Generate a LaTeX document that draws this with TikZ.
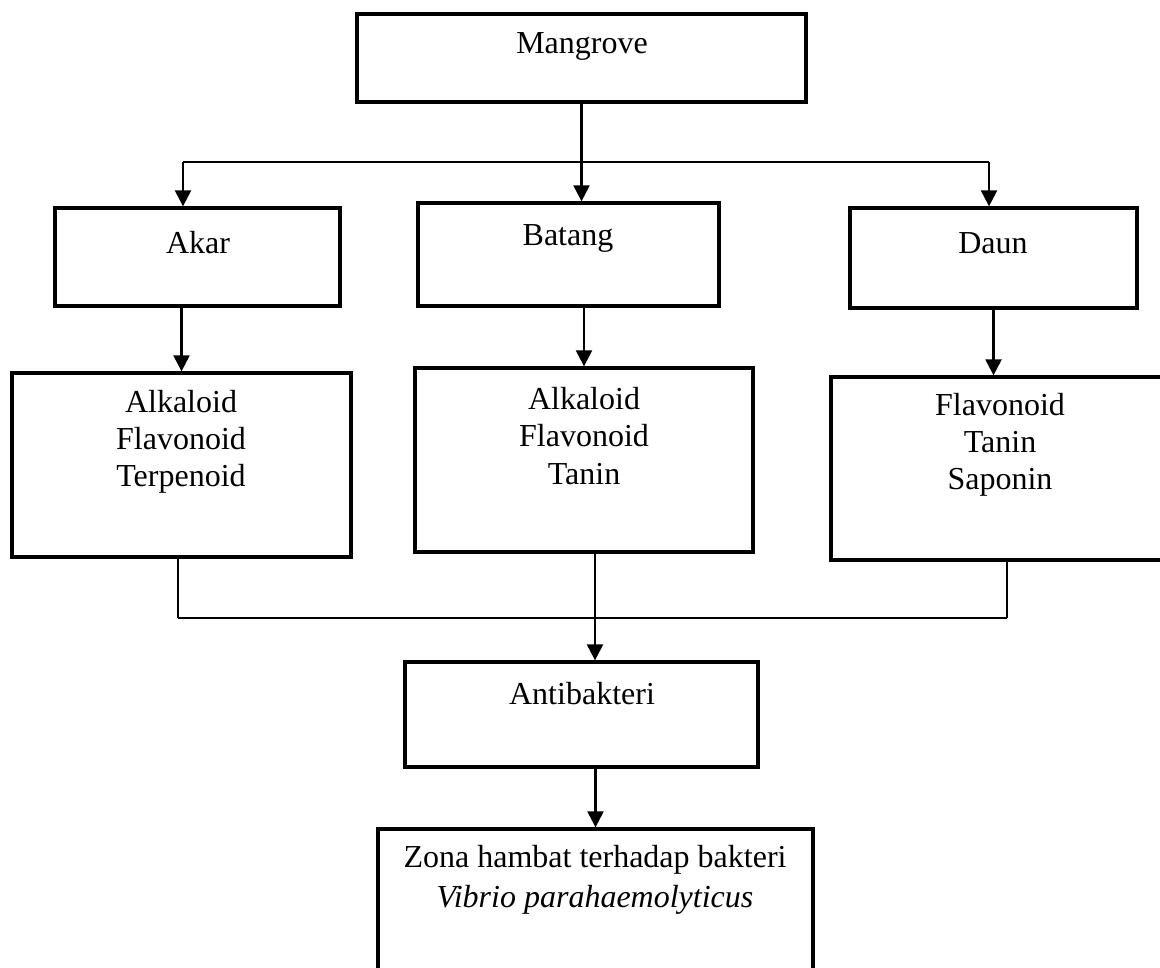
\documentclass[tikz,border=0pt]{standalone}
\usepackage{fontspec}
\setmainfont{Liberation Serif}
\usetikzlibrary{positioning,arrows.meta,fit}

\tikzset{
  box/.style={draw, line width=1.25pt, inner sep=0pt},
  txt/.style={align=center, inner sep=0pt, font=\fontsize{12}{13.9}\selectfont},
  arrow/.style={line width=0.85pt, -{Triangle[length=6pt,width=6pt]}},
  link/.style={line width=0.85pt},
  thinlink/.style={line width=0.45pt}
}

\begin{document}
\begin{tikzpicture}[x=0.375pt, y=-0.375pt]
  \clip (0,0) rectangle (1160,967);
  % kotak
  \node[box, fit={(357,14) (806,102)}] (mangrove) {};
  \node[box, fit={(55,208) (340,306)}] (akar) {};
  \node[box, fit={(418,203) (719,306)}] (batang) {};
  \node[box, fit={(850,208) (1137,308)}] (daun) {};
  \node[box, fit={(12,373) (351,557)}] (senyawaA) {};
  \node[box, fit={(415,368) (753,552)}] (senyawaB) {};
  \node[box, fit={(831,377) (1169,560)}] (senyawaD) {};
  \node[box, fit={(405,662) (758,767)}] (anti) {};
  \node[box, fit={(378,829) (813,1010)}] (zona) {};

  % teks
  \node[txt] (mangrovelbl) at (582,46) {Mangrove};
  \node[txt] (akarlbl) at (198,243) {Akar};
  \node[txt] (batanglbl) at (568,238) {Batang};
  \node[txt] (daunlbl) at (993,243) {Daun};
  \node[txt] (senyawaAlbl) at (181,442) {Alkaloid\\Flavonoid\\Terpenoid};
  \node[txt] (senyawaBlbl) at (584,436) {Alkaloid\\Flavonoid\\Tanin};
  \node[txt] (senyawaDlbl) at (1000,445) {Flavonoid\\Tanin\\Saponin};
  \node[txt] (antilbl) at (582,694) {Antibakteri};
  \node[txt, font=\fontsize{12}{15}\selectfont] (zonalbl) at (595,880)
    {Zona hambat terhadap bakteri\\\textit{Vibrio parahaemolyticus}};

  % percabangan atas
  \coordinate (forkL) at (183,162);
  \coordinate (forkR) at (989,162);
  \draw[arrow] (mangrove.south) -- (mangrove.south |- batang.north);
  \draw[link] (forkL) -- (forkR);
  \draw[arrow] (forkL) -- (forkL |- akar.north);
  \draw[arrow] (forkR) -- (forkR |- daun.north);

  % ke senyawa
  \draw[arrow] (senyawaA.north |- akar.south) -- (senyawaA.north);
  \draw[arrow] (senyawaB.north |- batang.south) -- (senyawaB.north);
  \draw[arrow] (daun.south) -- (daun.south |- senyawaD.north);

  % penggabungan bawah
  \coordinate (joinL) at (178,618);
  \coordinate (joinM) at (595,618);
  \coordinate (joinR) at (1007,618);
  \draw[thinlink] (joinL |- senyawaA.south) -- (joinL);
  \draw[thinlink] (joinR |- senyawaD.south) -- (joinR);
  \draw[link] (joinL) -- (joinR);
  \draw[arrow] (joinM |- senyawaB.south) -- (joinM |- anti.north);
  \draw[arrow] (anti.south -| zona.north) -- (zona.north);
\end{tikzpicture}
\end{document}
